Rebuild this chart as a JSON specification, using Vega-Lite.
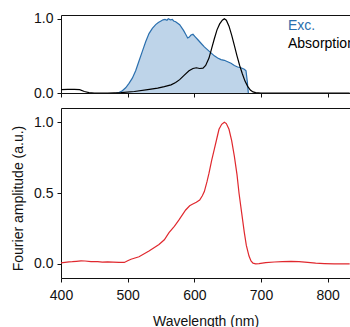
{
  "$schema": "https://vega.github.io/schema/vega-lite/v6.json",
  "autosize": {"type": "none"},
  "padding": {"left": 61, "top": 15, "right": 0, "bottom": 49},
  "params": [{"name": "height", "value": 263}],
  "background": "white",
  "bounds": "flush",
  "spacing": 15,
  "config": {
    "view": {"stroke": null},
    "font": "Liberation Sans",
    "axis": {
      "grid": false,
      "labelFlush": false,
      "domainColor": "#111111",
      "domainWidth": 1,
      "tickColor": "#111111",
      "tickSize": 4,
      "labelFont": "Liberation Sans",
      "labelFontSize": 14,
      "labelColor": "#111111",
      "titleFont": "Liberation Sans",
      "titleFontSize": 14,
      "titleFontWeight": "normal",
      "titleColor": "#111111"
    }
  },
  "datasets": {
    "top": [
      {"wl": 483, "v": 0, "s": "Exc."},
      {"wl": 487, "v": 0.005, "s": "Exc."},
      {"wl": 492, "v": 0.03, "s": "Exc."},
      {"wl": 497, "v": 0.07, "s": "Exc."},
      {"wl": 502, "v": 0.13, "s": "Exc."},
      {"wl": 507, "v": 0.2, "s": "Exc."},
      {"wl": 512, "v": 0.3, "s": "Exc."},
      {"wl": 517, "v": 0.43, "s": "Exc."},
      {"wl": 522, "v": 0.56, "s": "Exc."},
      {"wl": 527, "v": 0.69, "s": "Exc."},
      {"wl": 532, "v": 0.8, "s": "Exc."},
      {"wl": 537, "v": 0.87, "s": "Exc."},
      {"wl": 542, "v": 0.92, "s": "Exc."},
      {"wl": 546, "v": 0.95, "s": "Exc."},
      {"wl": 550, "v": 0.97, "s": "Exc."},
      {"wl": 553, "v": 0.985, "s": "Exc."},
      {"wl": 556, "v": 0.99, "s": "Exc."},
      {"wl": 559, "v": 0.98, "s": "Exc."},
      {"wl": 561, "v": 1.0, "s": "Exc."},
      {"wl": 564, "v": 0.985, "s": "Exc."},
      {"wl": 567, "v": 0.99, "s": "Exc."},
      {"wl": 569, "v": 0.97, "s": "Exc."},
      {"wl": 572, "v": 0.96, "s": "Exc."},
      {"wl": 575, "v": 0.94, "s": "Exc."},
      {"wl": 578, "v": 0.92, "s": "Exc."},
      {"wl": 581, "v": 0.88, "s": "Exc."},
      {"wl": 584, "v": 0.84, "s": "Exc."},
      {"wl": 587, "v": 0.79, "s": "Exc."},
      {"wl": 590, "v": 0.74, "s": "Exc."},
      {"wl": 592, "v": 0.75, "s": "Exc."},
      {"wl": 595, "v": 0.78, "s": "Exc."},
      {"wl": 598, "v": 0.79, "s": "Exc."},
      {"wl": 601, "v": 0.76, "s": "Exc."},
      {"wl": 605, "v": 0.72, "s": "Exc."},
      {"wl": 610, "v": 0.67, "s": "Exc."},
      {"wl": 615, "v": 0.62, "s": "Exc."},
      {"wl": 620, "v": 0.58, "s": "Exc."},
      {"wl": 625, "v": 0.54, "s": "Exc."},
      {"wl": 630, "v": 0.5, "s": "Exc."},
      {"wl": 635, "v": 0.47, "s": "Exc."},
      {"wl": 640, "v": 0.45, "s": "Exc."},
      {"wl": 645, "v": 0.44, "s": "Exc."},
      {"wl": 650, "v": 0.42, "s": "Exc."},
      {"wl": 655, "v": 0.4, "s": "Exc."},
      {"wl": 660, "v": 0.37, "s": "Exc."},
      {"wl": 665, "v": 0.35, "s": "Exc."},
      {"wl": 670, "v": 0.34, "s": "Exc."},
      {"wl": 675, "v": 0.32, "s": "Exc."},
      {"wl": 677.5, "v": 0.3, "s": "Exc."},
      {"wl": 679.5, "v": 0.15, "s": "Exc."},
      {"wl": 681, "v": 0.0, "s": "Exc."},
      {"wl": 400, "v": 0.045, "s": "Absorption"},
      {"wl": 410, "v": 0.048, "s": "Absorption"},
      {"wl": 420, "v": 0.05, "s": "Absorption"},
      {"wl": 428, "v": 0.045, "s": "Absorption"},
      {"wl": 435, "v": 0.02, "s": "Absorption"},
      {"wl": 442, "v": 0.005, "s": "Absorption"},
      {"wl": 450, "v": 0, "s": "Absorption"},
      {"wl": 470, "v": 0, "s": "Absorption"},
      {"wl": 490, "v": 0.005, "s": "Absorption"},
      {"wl": 510, "v": 0.02, "s": "Absorption"},
      {"wl": 530, "v": 0.045, "s": "Absorption"},
      {"wl": 545, "v": 0.065, "s": "Absorption"},
      {"wl": 555, "v": 0.085, "s": "Absorption"},
      {"wl": 565, "v": 0.11, "s": "Absorption"},
      {"wl": 572, "v": 0.14, "s": "Absorption"},
      {"wl": 578, "v": 0.18, "s": "Absorption"},
      {"wl": 585, "v": 0.24, "s": "Absorption"},
      {"wl": 592, "v": 0.3, "s": "Absorption"},
      {"wl": 598, "v": 0.33, "s": "Absorption"},
      {"wl": 603, "v": 0.34, "s": "Absorption"},
      {"wl": 608, "v": 0.33, "s": "Absorption"},
      {"wl": 613, "v": 0.335, "s": "Absorption"},
      {"wl": 617, "v": 0.37, "s": "Absorption"},
      {"wl": 622, "v": 0.47, "s": "Absorption"},
      {"wl": 626, "v": 0.6, "s": "Absorption"},
      {"wl": 630, "v": 0.73, "s": "Absorption"},
      {"wl": 634, "v": 0.85, "s": "Absorption"},
      {"wl": 638, "v": 0.93, "s": "Absorption"},
      {"wl": 642, "v": 0.98, "s": "Absorption"},
      {"wl": 645, "v": 1.0, "s": "Absorption"},
      {"wl": 648, "v": 0.98, "s": "Absorption"},
      {"wl": 652, "v": 0.9, "s": "Absorption"},
      {"wl": 656, "v": 0.78, "s": "Absorption"},
      {"wl": 660, "v": 0.64, "s": "Absorption"},
      {"wl": 664, "v": 0.5, "s": "Absorption"},
      {"wl": 668, "v": 0.37, "s": "Absorption"},
      {"wl": 672, "v": 0.26, "s": "Absorption"},
      {"wl": 676, "v": 0.16, "s": "Absorption"},
      {"wl": 680, "v": 0.09, "s": "Absorption"},
      {"wl": 684, "v": 0.04, "s": "Absorption"},
      {"wl": 688, "v": 0.015, "s": "Absorption"},
      {"wl": 692, "v": 0.005, "s": "Absorption"},
      {"wl": 700, "v": 0, "s": "Absorption"},
      {"wl": 833, "v": 0, "s": "Absorption"}
    ],
    "red": [
      {"wl": 400, "v": 0.007},
      {"wl": 412, "v": 0.014},
      {"wl": 417, "v": 0.015},
      {"wl": 423, "v": 0.018},
      {"wl": 430, "v": 0.021},
      {"wl": 436, "v": 0.02},
      {"wl": 445, "v": 0.016},
      {"wl": 455, "v": 0.016},
      {"wl": 462, "v": 0.012},
      {"wl": 470, "v": 0.014},
      {"wl": 478, "v": 0.012},
      {"wl": 487, "v": 0.01},
      {"wl": 495, "v": 0.01},
      {"wl": 500, "v": 0.022},
      {"wl": 505, "v": 0.032},
      {"wl": 517, "v": 0.05},
      {"wl": 532, "v": 0.09},
      {"wl": 547, "v": 0.136},
      {"wl": 555, "v": 0.17},
      {"wl": 562, "v": 0.22},
      {"wl": 570, "v": 0.265},
      {"wl": 577, "v": 0.31},
      {"wl": 587, "v": 0.38},
      {"wl": 593, "v": 0.41},
      {"wl": 597, "v": 0.42},
      {"wl": 603, "v": 0.435},
      {"wl": 608, "v": 0.45},
      {"wl": 612, "v": 0.48},
      {"wl": 615, "v": 0.51},
      {"wl": 619, "v": 0.58},
      {"wl": 622, "v": 0.64},
      {"wl": 626, "v": 0.73},
      {"wl": 630, "v": 0.81},
      {"wl": 634, "v": 0.89},
      {"wl": 637, "v": 0.95},
      {"wl": 641, "v": 0.985},
      {"wl": 645, "v": 1.0},
      {"wl": 648, "v": 0.99},
      {"wl": 652, "v": 0.95},
      {"wl": 656, "v": 0.87},
      {"wl": 660, "v": 0.76},
      {"wl": 664, "v": 0.63},
      {"wl": 667, "v": 0.5},
      {"wl": 671, "v": 0.36},
      {"wl": 675, "v": 0.22},
      {"wl": 678, "v": 0.13},
      {"wl": 682, "v": 0.055},
      {"wl": 685, "v": 0.02},
      {"wl": 688, "v": 0.005},
      {"wl": 692, "v": 0.0},
      {"wl": 697, "v": 0.002},
      {"wl": 707, "v": 0.008},
      {"wl": 720, "v": 0.013},
      {"wl": 732, "v": 0.016},
      {"wl": 745, "v": 0.017},
      {"wl": 757, "v": 0.016},
      {"wl": 770, "v": 0.01},
      {"wl": 782, "v": 0.005},
      {"wl": 795, "v": 0.002},
      {"wl": 810, "v": 0.0},
      {"wl": 833, "v": 0.0}
    ]
  },
  "vconcat": [
    {
      "width": 289,
      "height": 78,
      "data": {"name": "top"},
      "layer": [
        {
          "transform": [{"filter": "datum.s === 'Exc.'"}],
          "mark": {"type": "area", "fill": "#bed4e9", "clip": true},
          "encoding": {
            "x": {"field": "wl", "type": "quantitative", "scale": {"domain": [400, 833.5], "nice": false, "zero": false},
                  "axis": {"orient": "top", "ticks": false, "labels": false, "title": null}},
            "y": {"field": "v", "type": "quantitative", "scale": {"domain": [0, 1.05], "nice": false},
                  "axis": {"values": [0, 0.5, 1], "format": ".1f", "title": null, "labelPadding": 4}}
          }
        },
        {
          "mark": {"type": "line", "strokeWidth": 1.2, "clip": true},
          "encoding": {
            "x": {"field": "wl", "type": "quantitative",
                  "axis": {"orient": "bottom", "values": [400, 500, 600, 700, 800], "labels": false, "title": null}},
            "y": {"field": "v", "type": "quantitative"},
            "color": {
              "field": "s", "type": "nominal",
              "scale": {"domain": ["Exc.", "Absorption"], "range": ["#2a6fae", "#000000"]},
              "legend": {
                "orient": "none", "legendX": 213, "legendY": 4, "title": null,
                "symbolSize": 0, "symbolStrokeWidth": 0, "symbolOpacity": 0,
                "labelOffset": 0, "padding": 0, "rowPadding": 4,
                "labelFontSize": 14, "labelFont": "Liberation Sans", "labelLimit": 0,
                "encode": {"labels": {"update": {"fill": {"signal": "datum.value === 'Exc.' ? '#2a6fae' : '#000000'"}}}}
              }
            }
          }
        }
      ],
      "resolve": {"axis": {"x": "independent"}}
    },
    {
      "width": 289,
      "height": 170,
      "data": {"name": "red"},
      "layer": [
        {
          "mark": {"type": "line", "color": "#e0282e", "strokeWidth": 1.2, "clip": true},
          "encoding": {
            "x": {"field": "wl", "type": "quantitative", "scale": {"domain": [400, 833.5], "nice": false, "zero": false},
                  "axis": {"values": [400, 500, 600, 700, 800], "title": "Wavelength (nm)", "labelPadding": 6, "titleY": 36}},
            "y": {"field": "v", "type": "quantitative", "scale": {"domain": [-0.1, 1.1], "nice": false},
                  "axis": {"values": [0, 0.5, 1], "format": ".1f", "title": "Fourier amplitude (a.u.)", "labelPadding": 4,
                           "titleX": -39, "titleY": 90, "titleBaseline": "alphabetic", "titleAngle": -90, "titleAlign": "center"}}
          }
        },
        {
          "mark": {"type": "line", "opacity": 0},
          "encoding": {
            "x": {"field": "wl", "type": "quantitative", "axis": {"orient": "top", "ticks": false, "labels": false, "title": null}},
            "y": {"field": "v", "type": "quantitative"}
          }
        }
      ],
      "resolve": {"axis": {"x": "independent"}}
    }
  ]
}
